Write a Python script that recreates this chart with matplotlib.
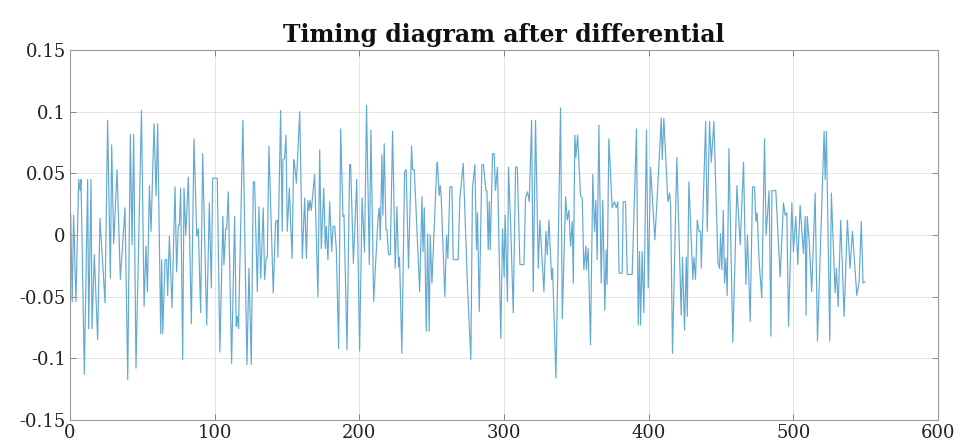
import matplotlib
matplotlib.use("Agg")
import matplotlib.pyplot as plt

# Differentiated timing signal: sample positions and values
t = [0.5, 1.5, 2.5, 4.1, 6.0, 7.0, 7.6, 9.9, 12.2, 12.9, 14.5, 15.2, 16.8, 19.1, 20.7, 24.2,
     26.0, 27.9, 28.8, 30.2, 32.5, 34.8, 38.0, 39.9, 41.7, 42.9, 44.0, 45.6, 49.4,
     51.2, 52.5, 53.5, 54.9, 56.0, 58.1, 59.5, 60.6, 62.7, 63.4, 64.1, 65.7, 66.8, 67.5,
     68.7, 70.5, 72.6, 73.7, 74.9, 75.6, 76.5, 77.9, 78.8, 80.0, 81.8, 83.9, 85.7, 87.6,
     88.7, 90.3, 91.7, 94.5, 96.3, 97.7, 98.6, 101.8,
     103.6, 105.7, 106.4, 107.6, 108.3, 109.4, 111.7, 113.8, 114.9, 115.6, 116.5, 119.5,
     122.3, 123.7, 125.3, 126.7, 127.6, 129.5, 130.6, 131.8, 133.6, 134.5, 135.7, 136.4,
     137.5, 140.5, 142.1, 143.3, 143.7, 145.6, 146.7, 147.2, 148.3, 149.3, 150.2, 151.6,
     153.5, 154.6, 155.3, 156.5, 158.8, 160.6, 162.2, 163.4, 164.5, 165.2, 165.9, 166.8,
     169.1, 171.4, 172.6, 173.7, 175.4, 176.5, 177.2, 178.3, 179.5, 180.9, 181.8, 183.0,
     184.1, 185.7, 187.1, 188.7, 189.4, 191.5, 193.3, 194.0, 195.9, 198.2, 200.2, 201.9,
     203.6, 205.0, 206.9, 208.0, 209.9, 212.9, 213.8, 214.5, 215.6, 216.3, 217.2, 218.4,
     219.1, 220.2, 221.4, 223.0, 224.8, 226.0, 227.1, 227.8, 229.4, 231.3, 232.4, 234.0,
     236.1, 236.8, 238.0, 241.7, 243.3, 244.0, 244.9, 246.3, 247.2, 248.3, 249.0, 250.2,
     253.6, 254.0, 255.2, 255.9, 256.6, 259.1, 260.3, 261.2, 262.6, 264.0, 264.9, 268.3,
     269.5, 271.8, 274.8, 277.1, 278.2, 279.9, 281.0, 281.7, 282.9, 284.7, 285.8, 287.5,
     288.2, 289.1, 289.8, 290.5, 292.1, 293.2, 294.1, 295.5, 297.8, 299.0, 300.1, 300.8,
     302.4, 303.1, 304.7, 306.4, 308.0, 309.2, 311.0, 313.8, 314.9, 316.3, 317.5, 319.1,
     320.2, 321.8, 323.7, 324.8, 327.6, 329.0, 329.9, 331.1, 332.9, 333.6, 335.9, 339.1,
     340.3, 342.6, 343.7, 344.9, 346.0, 347.2, 347.9, 349.0, 349.7, 350.9, 352.9, 354.1,
     355.2, 356.6, 357.0, 358.2, 359.8, 361.4, 362.6, 363.5, 364.4, 365.6, 367.2, 368.3,
     369.7, 370.6, 371.3, 372.5, 374.8, 376.4, 377.6, 378.7, 379.6, 381.7, 382.4, 384.0,
     385.2, 388.6, 391.6, 392.8, 393.7, 394.4, 395.5, 396.7, 398.5, 399.7, 401.3, 404.3,
     407.0, 408.7, 409.4, 410.5, 413.3, 414.5, 415.2, 416.5, 419.5, 422.5, 423.4, 424.8,
     426.0, 426.7, 427.8, 430.6, 431.3, 432.4, 433.6, 434.7, 435.9, 436.4, 439.4, 440.5,
     442.1, 443.3, 445.1, 447.9, 449.0, 449.7, 450.6, 451.6, 452.5, 453.4, 454.3, 455.5,
     458.2, 461.0, 463.3, 465.6, 467.2, 468.3, 470.2, 471.8, 473.2, 474.1, 475.0, 476.4,
     478.2, 480.1, 481.2, 483.3, 484.5, 485.2, 487.9, 490.9, 493.2, 494.4, 495.5, 496.7,
     499.0, 500.1, 501.7, 503.1, 504.7, 507.0, 508.2, 508.8, 509.6, 511.0, 512.7, 515.1,
     516.7, 521.3, 522.0, 522.9, 525.2, 526.3, 528.9, 529.8, 531.0, 532.8, 535.1, 537.4,
     539.2, 540.9, 543.9, 545.5, 547.0, 548.2, 549.5]

amp = [0.016, -0.054, 0.016, -0.054, 0.045, 0.036, 0.045, -0.113, 0.045, -0.076, 0.045, -0.076,
       -0.016, -0.085, 0.0135, -0.055, 0.093, -0.035, 0.073, -0.007, 0.053, -0.036, 0.022,
       -0.117, 0.0815, -0.008, 0.0815, -0.108, 0.101,
       -0.058, -0.009, -0.046, 0.040, 0.003, 0.090, 0.032, 0.090, -0.080, -0.020, -0.080,
       -0.020, -0.020, -0.049, -0.001, -0.059, 0.039, -0.030, 0.008, 0.008, 0.038, -0.101,
       0.038, 0.000, 0.047, -0.072, 0.078, -0.001, 0.005, -0.063, 0.066, -0.073, 0.026,
       -0.043, 0.046, 0.046,
       -0.095, 0.015, -0.024, 0.005, 0.005, 0.035, -0.104, 0.015, -0.074, -0.066, -0.076,
       0.093, -0.105, -0.027, -0.105, 0.043, 0.043, -0.046, 0.023, -0.035, 0.022, -0.036,
       -0.018, -0.018, 0.072, -0.047, 0.011, 0.012, -0.018, 0.101, 0.003, 0.061, 0.062,
       0.081, 0.003, 0.038,
       -0.019, 0.061, 0.057, 0.042, 0.100, -0.019, 0.030, -0.019, 0.028, 0.020, 0.028,
       0.020, 0.049, -0.050, 0.069, -0.011, 0.038, -0.011, 0.007, -0.020, 0.027, -0.0135,
       0.007, 0.007, -0.012, -0.092, 0.086, 0.015, 0.016, -0.093, 0.057, 0.057, -0.023,
       0.045, -0.094, 0.030,
       -0.014, 0.105, -0.024, 0.085, -0.054, 0.0135, 0.022, -0.004, 0.065, 0.016, 0.074,
       0.004, 0.004, -0.016, -0.016, 0.084, -0.027, 0.023, -0.026, -0.018, -0.096, 0.051,
       0.053, -0.027, 0.072, 0.053, 0.053, -0.046, 0.031, -0.0135, 0.022, -0.078, 0.001,
       -0.078, 0.000, -0.039, 0.058,
       0.059, 0.032, 0.040, 0.031, -0.050, 0.000, -0.019, 0.039, 0.039, -0.020, -0.020,
       0.030, 0.058, -0.042, -0.101, 0.038, 0.057, -0.012, 0.018, -0.062, 0.057, 0.057,
       0.036, 0.036, -0.012, 0.027, -0.012, 0.066, 0.066, 0.036, 0.055, -0.084, 0.005,
       -0.034, 0.016, -0.054, 0.055, 0.005,
       -0.063, 0.055, 0.055, -0.024, -0.024, 0.030, 0.035, 0.027, 0.093, -0.046, 0.093,
       -0.027, 0.012, -0.046, 0.003, -0.016, 0.012, -0.036, -0.027, -0.116, 0.103, -0.068,
       0.031, 0.012, 0.020, -0.009, 0.011, -0.039, 0.081, 0.063, 0.081, 0.032, 0.030,
       -0.028, -0.009,
       -0.028, -0.011, -0.089, 0.049, 0.003, 0.028, -0.020, 0.089, -0.039, 0.028, -0.061,
       -0.012, -0.040, 0.078, 0.022, 0.027, 0.022, 0.027, -0.031, -0.031, 0.027, 0.027,
       -0.032, -0.032, 0.086, -0.073, -0.0135, -0.073, -0.0135, -0.063, 0.085, -0.043,
       0.055, -0.004,
       0.055, 0.0945, 0.061, 0.0945, 0.027, 0.034, 0.024, -0.096, 0.063, -0.065, -0.018,
       -0.077, -0.018, -0.066, 0.043, -0.036, -0.018, -0.036, 0.012, 0.003, 0.003, -0.027,
       0.092, 0.003, 0.092, 0.059, 0.092, -0.022, -0.027, 0.001, -0.028, 0.020, -0.039,
       -0.019, -0.049, 0.070,
       -0.087, 0.040, -0.008, 0.059, -0.040, 0.000, -0.070, 0.039, 0.039, 0.011, 0.018,
       -0.022, -0.051, 0.078, 0.000, 0.036, -0.082, 0.036, 0.036, -0.034, 0.026, 0.016,
       0.018, -0.074, 0.026, -0.0135, 0.015, -0.024, 0.024, -0.015, 0.015, -0.065, 0.015,
       -0.005, -0.046, 0.034,
       -0.086, 0.084, 0.045, 0.084, -0.086, 0.034, -0.047, -0.027, -0.058, 0.012, -0.066,
       0.012, -0.027, 0.003, -0.049, -0.038, 0.011, -0.039, -0.038]

x_ticks = [0, 100, 200, 300, 400, 500, 600]
y_ticks = [-0.15, -0.1, -0.05, 0, 0.05, 0.1, 0.15]
y_tick_labels = ["-0.15", "-0.1", "-0.05", "0", "0.05", "0.1", "0.15"]
title = "Timing diagram after differential"

plt.rcParams["font.family"] = ["DejaVu Serif"]

fig = plt.figure(figsize=(9.63, 4.48), dpi=100)
ax = fig.add_axes([0.0727, 0.0625, 0.9013, 0.826])

ax.plot(t, amp, color="#62a9d3", linewidth=0.85)

ax.set_xlim(0, 600)
ax.set_ylim(-0.15, 0.15)
ax.set_xticks(x_ticks)
ax.set_xticklabels([str(v) for v in x_ticks])
ax.set_yticks(y_ticks)
ax.set_yticklabels(y_tick_labels)
ax.tick_params(direction="in", length=4, width=0.6, color="#777777",
               labelsize=13, labelcolor="#222222", top=True, right=True, pad=3)
ax.grid(True, color="#e4e4e4", linewidth=0.7)
ax.set_axisbelow(True)
for side, sp in ax.spines.items():
    sp.set_color("#9a9a9a")
    sp.set_linewidth(0.8)

ax.set_title(title, fontsize=17, fontweight="bold", color="#111111", pad=6)

fig.savefig("out.png", dpi=100)
